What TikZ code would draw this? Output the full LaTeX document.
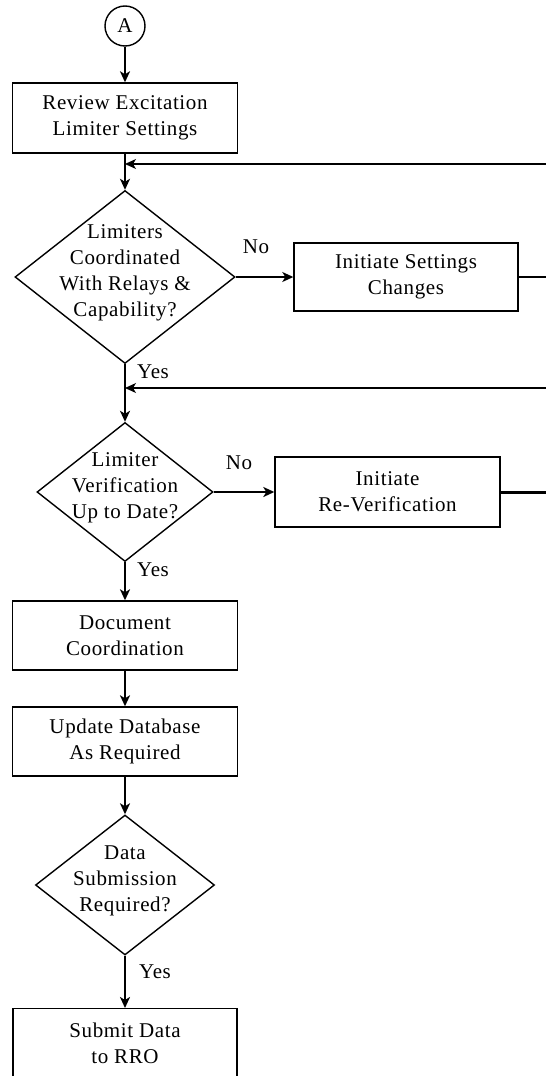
\documentclass[tikz,border=0pt]{standalone}
\usepackage{fontspec}
\setmainfont{Liberation Serif}[LetterSpace=3]
\usetikzlibrary{shapes.geometric,arrows.meta}

\tikzset{
  every node/.style={font=\fontsize{21}{26}\selectfont},
  stepbox/.style={draw, line width=1.4pt, rectangle, align=center,
    inner sep=0pt, minimum width=225pt, minimum height=70pt},
  decision/.style={draw, line width=1.4pt, diamond, inner sep=0pt, aspect=1},
  connector/.style={draw, line width=1.4pt, circle, inner sep=0pt, minimum size=40pt},
  flow/.style={line width=2pt, -{Stealth[length=11pt,width=10pt,inset=3pt]}},
  loopback/.style={line width=1.2pt, -{Stealth[length=11pt,width=10pt,inset=3pt]}},
  feed/.style={line width=1.2pt},
  answer/.style={inner sep=0pt}
}

\newcommand{\ctext}[1]{\makebox[0pt]{\smash{\begin{tabular}{@{}c@{}}#1\end{tabular}}}}

\begin{document}
\begin{tikzpicture}[x=1pt,y=-1pt]
  \useasboundingbox (0,0) rectangle (546,1076);
  \fill[white] (0,0) rectangle (546,1076);
  \clip (0,0) rectangle (546,1076);

  % main column
  \node[connector] (start) at (125,26) {A};
  \node[stepbox] (review) at (125,118) {Review Excitation\\Limiter Settings};
  \node[decision, minimum width=220pt, minimum height=173pt] (coord) at (125,277)
    {\ctext{Limiters\\Coordinated\\With Relays \&\\Capability?}};
  \node[stepbox, minimum width=224pt, minimum height=68pt] (change) at (406,277)
    {Initiate Settings\\Changes};
  \node[decision, minimum width=176pt, minimum height=139pt] (verif) at (125,492)
    {\ctext{Limiter\\Verification\\Up to Date?}};
  \node[stepbox] (reverif) at (387.5,492) {Initiate\\Re-Verification};
  \node[stepbox, minimum height=69pt] (document) at (125,635.5) {Document\\Coordination};
  \node[stepbox, minimum height=69pt] (database) at (125,741.5) {Update Database\\As Required};
  \node[decision, minimum width=179pt, minimum height=140pt] (submitq) at (125,885)
    {\ctext{Data\\Submission\\Required?}};
  \node[stepbox, minimum width=224pt, anchor=north] (submit) at (125,1008) {Submit Data\\to RRO};

  % loose ends leaving to the right edge
  \coordinate (ret1) at (546,164);
  \coordinate (ret2) at (546,388);
  \coordinate (out1) at (546,277);
  \coordinate (out2) at (546,492);

  % connectors
  \draw[flow] (start) -- (review);
  \draw[flow] (review) -- (coord);
  \draw[loopback] (ret1) -- (ret1 -| review.south);
  \draw[flow, line width=1.4pt] (coord.east) -- (change.west);
  \draw[feed] (change.east) -- (out1);
  \draw[flow] (coord.south) -- (verif.north);
  \draw[loopback] (ret2) -- (ret2 -| coord.south);
  \draw[flow] (verif.east) -- (reverif.west);
  \draw[feed, line width=3pt] (reverif.east) -- (out2);
  \draw[flow] (verif.south) -- (document.north);
  \draw[flow] (document) -- (database);
  \draw[flow] (database) -- (submitq);
  \draw[flow] (submitq.south) -- (submit.north);

  % branch labels
  \node[answer] (no1) at (256,247) {No};
  \node[answer] (yes1) at (153,372) {Yes};
  \node[answer] (no2) at (239,463) {No};
  \node[answer] (yes2) at (153,570) {Yes};
  \node[answer] (yes3) at (155,972) {Yes};
\end{tikzpicture}
\end{document}
